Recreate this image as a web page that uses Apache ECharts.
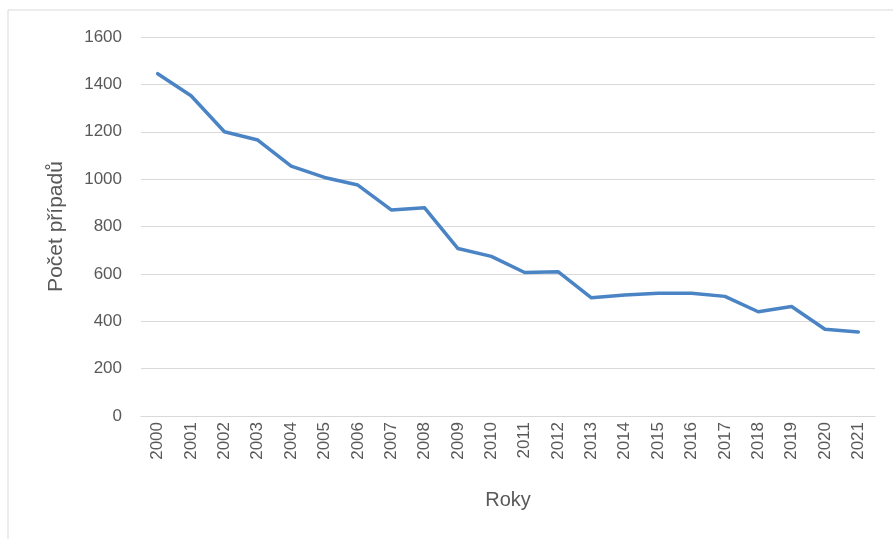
<!DOCTYPE html>
<html>
<head>
<meta charset="utf-8">
<script src="https://cdn.jsdelivr.net/npm/echarts@6/dist/echarts.min.js"></script>
<style>
  html, body { margin: 0; padding: 0; background: #ffffff; }
  #chart { width: 893px; height: 539px; }
</style>
</head>
<body>
<div id="chart"></div>
<script>
// Years on the category axis
const years = ['2000','2001','2002','2003','2004','2005','2006','2007','2008','2009','2010',
               '2011','2012','2013','2014','2015','2016','2017','2018','2019','2020','2021'];
// Number of cases per year
const cases = [1445, 1352, 1200, 1165, 1055, 1007, 975, 870, 879, 707, 674,
               606, 609, 499, 511, 518, 518, 505, 440, 462, 366, 355];
// Value axis ticks
const yMin = 0, yMax = 1600, yStep = 200;

const textColor = '#595959';
const fontFamily = '"Liberation Sans", Arial, sans-serif';

const chart = echarts.init(document.getElementById('chart'), null, { renderer: 'canvas' });
chart.setOption({
  backgroundColor: '#ffffff',
  animation: false,
  graphic: [{
    type: 'rect',
    shape: { x: 8, y: 10, width: 900, height: 540 },
    style: { fill: 'none', stroke: '#d9d9d9', lineWidth: 1 },
    silent: true
  }],
  grid: { left: 141, right: 18, top: 37, bottom: 123, containLabel: false },
  xAxis: {
    type: 'category',
    data: years,
    boundaryGap: true,
    name: 'Roky',
    nameLocation: 'middle',
    nameGap: 74,
    nameTextStyle: { color: textColor, fontSize: 20, fontFamily },
    axisLine: { lineStyle: { color: '#d9d9d9', width: 1 } },
    axisTick: { show: false },
    axisLabel: { rotate: 90, color: textColor, fontSize: 17, fontFamily, margin: 6, interval: 0 }
  },
  yAxis: {
    type: 'value',
    min: yMin, max: yMax, interval: yStep,
    name: 'Počet případů',
    nameLocation: 'middle',
    nameGap: 74,
    nameRotate: 90,
    nameTextStyle: { color: textColor, fontSize: 21, fontFamily },
    axisLine: { show: false },
    axisTick: { show: false },
    axisLabel: { color: textColor, fontSize: 17, fontFamily, margin: 19, formatter: v => String(v) },
    splitLine: { lineStyle: { color: '#d9d9d9', width: 1 } }
  },
  series: [{
    type: 'line',
    data: cases,
    symbol: 'none',
    smooth: false,
    lineStyle: { color: '#4a84c4', width: 3.5, cap: 'round', join: 'round' }
  }]
});
</script>
</body>
</html>
